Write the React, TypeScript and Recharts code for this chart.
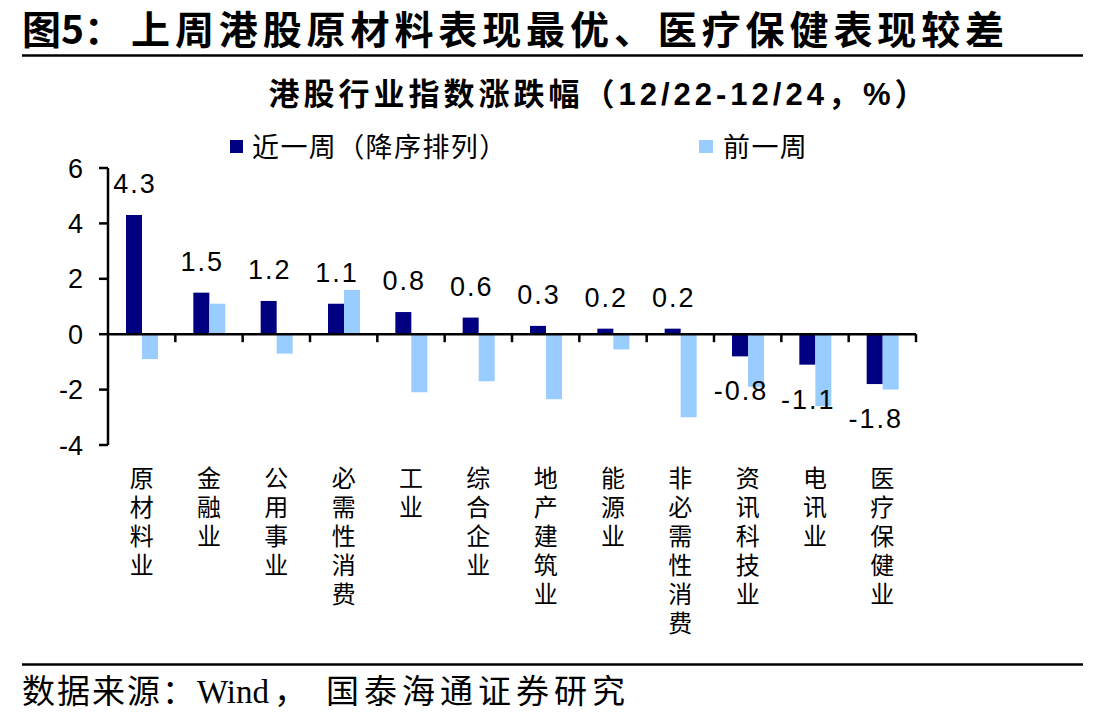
import React from 'react';
import { BarChart, Bar, XAxis, YAxis, LabelList, ReferenceLine } from 'recharts';

// 港股行业指数涨跌幅 (%), sorted by the latest week
const categories = ['原材料业', '金融业', '公用事业', '必需性消费', '工业', '综合企业', '地产建筑业', '能源业', '非必需性消费', '资讯科技业', '电讯业', '医疗保健业'];
const lastWeek = [4.3, 1.5, 1.2, 1.1, 0.8, 0.6, 0.3, 0.2, 0.2, -0.8, -1.1, -1.8];
const prevWeek = [-0.9, 1.1, -0.7, 1.6, -2.1, -1.7, -2.35, -0.55, -3.0, -1.9, -2.6, -2.0];
const yTicks = [-4, -2, 0, 2, 4, 6];

const data = categories.map((name, i) => ({ name, lastWeek: lastWeek[i], prevWeek: prevWeek[i] }));

const CJK = '"Noto Sans CJK SC", sans-serif';
const LATIN = '"Liberation Sans", Arial, sans-serif';
const NAVY = '#000080';
const SKY = '#99CCFF';

// vertical category names, one character per line
const CategoryTick = (props: any) => {
  const { x, y, payload } = props;
  const chars = Array.from(String(payload.value));
  return (
    <g>
      {chars.map((c, i) => (
        <text key={i} x={x} y={y + 42 + i * 29} textAnchor="middle" fontSize={24} fontFamily={CJK} fill="#000">
          {c}
        </text>
      ))}
    </g>
  );
};

// zero line with small ticks at the category boundaries
const ZeroAxis = (props: any) => {
  const { x1, x2, y1 } = props;
  const step = (x2 - x1) / categories.length;
  return (
    <g>
      <line x1={x1} x2={x2} y1={y1} y2={y1} stroke="#000" strokeWidth={2.5} />
      {categories.map((_, i) => (
        <line key={i} x1={x1 + step * (i + 1)} x2={x1 + step * (i + 1)} y1={y1} y2={y1 + 8} stroke="#000" strokeWidth={2.5} />
      ))}
    </g>
  );
};

const ValueLabel = (props: any) => {
  const { x, y, width, height, value } = props;
  const top = Math.min(y, y + height);
  const bottom = Math.max(y, y + height);
  const ty = value >= 0 ? top - 22 : bottom + 44;
  return (
    <text x={x + width / 2 + 1} y={ty} textAnchor="middle" fontSize={27} letterSpacing={2} fontFamily={LATIN} fill="#000">
      {value}
    </text>
  );
};

export default function App() {
  return (
    <div style={{ position: 'absolute', left: 0, top: 0, width: 1107, height: 724, background: '#fff' }}>
      <BarChart
        width={1107}
        height={724}
        data={data}
        margin={{ top: 168, right: 191, bottom: 239, left: 48 }}
        barGap={0}
        barSize={16}
      >
        <XAxis dataKey="name" axisLine={false} tickLine={false} tickSize={0} tickMargin={0} height={40} interval={0} tick={<CategoryTick />} />
        <YAxis
          domain={[-4, 6]}
          ticks={yTicks}
          width={60}
          axisLine={{ stroke: '#000', strokeWidth: 2.5 }}
          tickLine={{ stroke: '#000', strokeWidth: 2.5 }}
          tickSize={9}
          tickMargin={16}
          tick={{ fill: '#000', fontSize: 27, fontFamily: LATIN }}
        />
        <Bar dataKey="lastWeek" fill={NAVY} isAnimationActive={false}>
          <LabelList dataKey="lastWeek" content={<ValueLabel />} />
        </Bar>
        <Bar dataKey="prevWeek" fill={SKY} isAnimationActive={false} />
        <ReferenceLine y={0} shape={<ZeroAxis />} />
      </BarChart>

      <svg width={1107} height={724} style={{ position: 'absolute', left: 0, top: 0, pointerEvents: 'none' }}>
        <text x={22} y={44} fontSize={39} fontWeight="bold" fontFamily={CJK} fill="#000">图5：</text>
        <text x={131} y={44} fontSize={39} fontWeight="bold" fontFamily={CJK} fill="#000" letterSpacing={4.9}>
          上周港股原材料表现最优、医疗保健表现较差
        </text>
        <line x1={22} x2={1083} y1={55.5} y2={55.5} stroke="#000" strokeWidth={2.5} />

        <text x={599} y={105} textAnchor="middle" fontSize={31} fontWeight="bold" fontFamily={CJK} fill="#000" letterSpacing={4}>
          港股行业指数涨跌幅（<tspan fontFamily={LATIN}>12/22-12/24</tspan>，<tspan fontFamily={LATIN}>%</tspan>）
        </text>

        <rect x={230} y={140} width={13} height={13} fill={NAVY} />
        <text x={252} y={157} fontSize={27} fontFamily={CJK} fill="#000" letterSpacing={1.4}>近一周（降序排列）</text>
        <rect x={699} y={140} width={14} height={13} fill={SKY} />
        <text x={723} y={157} fontSize={27} fontFamily={CJK} fill="#000" letterSpacing={1.4}>前一周</text>

        <line x1={22} x2={1083} y1={664.5} y2={664.5} stroke="#000" strokeWidth={2.5} />
        <text x={22} y={703} fontSize={33} fontFamily={CJK} fill="#000" letterSpacing={2}>数据来源：</text>
        <text x={197} y={703} fontSize={33} fontFamily='"Liberation Serif", serif' fill="#000">Wind</text>
        <text x={274} y={703} fontSize={33} fontFamily={CJK} fill="#000">，</text>
        <text x={326} y={703} fontSize={33} fontFamily={CJK} fill="#000" letterSpacing={5}>国泰海通证券研究</text>
      </svg>
    </div>
  );
}
